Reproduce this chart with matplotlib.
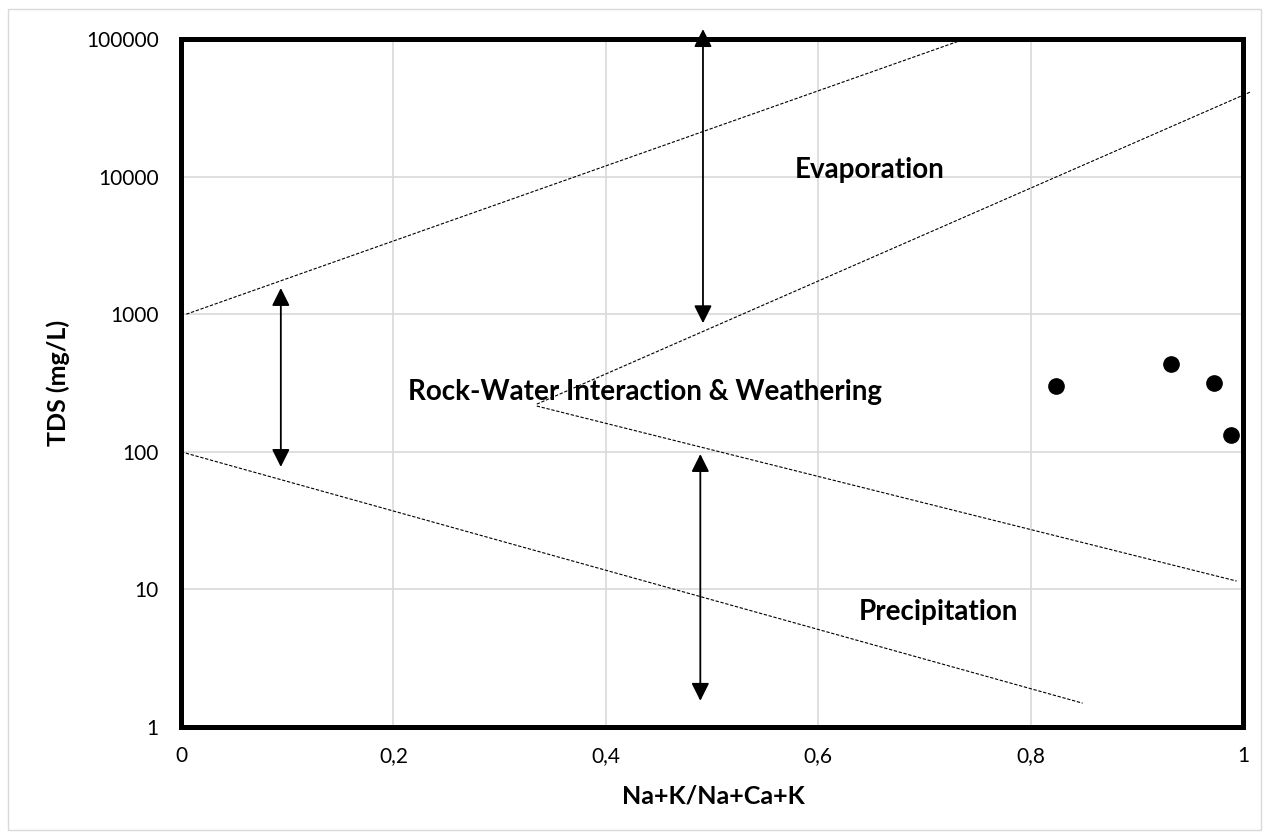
import matplotlib.pyplot as plt
import matplotlib.patches as patches

plt.rcParams['font.family'] = ['Lato', 'DejaVu Sans']

# samples
ratio = [0.824, 0.932, 0.973, 0.989]
tds = [301, 434, 316, 132]

# Gibbs boundary lines (dashed)
upper_x = [0.005, 0.738]
upper_y = [1000, 100000]
mid_up_x = [0.335, 1.007]
mid_up_y = [222, 41200]
mid_low_x = [0.335, 0.994]
mid_low_y = [215, 11.5]
lower_x = [0.0, 0.849]
lower_y = [100, 1.49]

# double arrows: x, top, bottom
arrows = [
    (0.4915, 118000, 860),
    (0.094, 1550, 77.6),
    (0.489, 96.3, 1.55),
]

labels = [
    ("Evaporation", 0.648, 11200),
    ("Rock-Water Interaction & Weathering", 0.437, 272),
    ("Precipitation", 0.713, 6.9),
]

xticks = [0, 0.2, 0.4, 0.6, 0.8, 1]
xtick_labels = ["0", "0,2", "0,4", "0,6", "0,8", "1"]
yticks = [1, 10, 100, 1000, 10000, 100000]
ytick_labels = ["1", "10", "100", "1000", "10000", "100000"]


def main():
    fig = plt.figure(figsize=(12.7, 8.39), dpi=100)
    W, H = 1270, 839
    ax = fig.add_axes([181 / W, 1 - 727 / H, 1062 / W, 688 / H])

    fig.patches.append(patches.Rectangle((8 / W, 1 - 830 / H), 1253 / W, 821 / H,
                                         transform=fig.transFigure, fill=False,
                                         edgecolor='#d9d9d9', lw=1))

    ax.set_yscale('log')
    ax.set_xlim(0, 1)
    ax.set_ylim(1, 100000)
    ax.set_xticks(xticks)
    ax.set_xticklabels(xtick_labels)
    ax.set_yticks(yticks)
    ax.set_yticklabels(ytick_labels)
    ax.minorticks_off()
    ax.tick_params(length=0, labelsize=15, pad=14)
    ax.tick_params(axis='y', pad=16)
    ax.grid(True, color='#d9d9d9', lw=1.2)
    ax.set_axisbelow(True)
    for s in ax.spines.values():
        s.set_linewidth(3.6)
        s.set_color('black')
        s.set_zorder(5)

    dash = (0, (3, 1.5))
    for xs, ys in [(upper_x, upper_y), (mid_up_x, mid_up_y),
                   (mid_low_x, mid_low_y), (lower_x, lower_y)]:
        ax.plot(xs, ys, color='black', lw=0.8, linestyle=dash, clip_on=False, zorder=3)

    for x, top, bot in arrows:
        ax.annotate('', xy=(x, top), xytext=(x, bot),
                    arrowprops=dict(arrowstyle='<|-|>,head_length=0.6,head_width=0.3',
                                    color='black', lw=1.3, mutation_scale=18,
                                    shrinkA=0, shrinkB=0),
                    annotation_clip=False, zorder=6)

    for txt, x, y in labels:
        ax.text(x, y, txt, ha='center', va='center', fontsize=20,
                fontweight='bold', zorder=4)

    ax.plot(ratio, tds, 'o', color='black', markersize=11, zorder=4)

    fig.text(713 / W, 1 - 796 / H, "Na+K/Na+Ca+K", ha='center', va='center',
             fontsize=18, fontweight='bold')
    fig.text(58 / W, 1 - 383 / H, "TDS (mg/L)", ha='center', va='center',
             fontsize=18, fontweight='bold', rotation=90)

    fig.savefig('out.png', dpi=100)


if __name__ == '__main__':
    main()
